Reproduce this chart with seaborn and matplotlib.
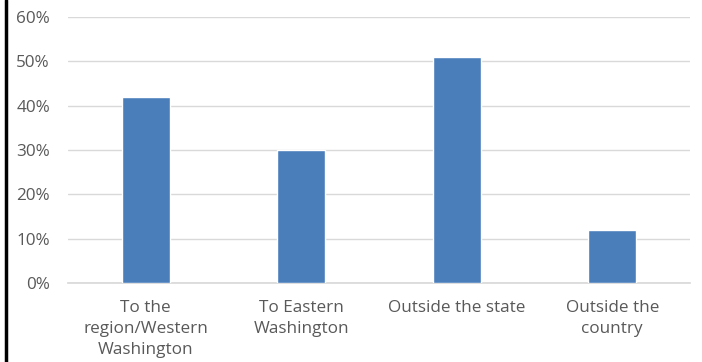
import matplotlib
matplotlib.use("Agg")
import matplotlib.pyplot as plt
from matplotlib.lines import Line2D
from matplotlib.ticker import PercentFormatter
import seaborn as sns
import pandas as pd

categories = ["To the\nregion/Western\nWashington", "To Eastern\nWashington",
              "Outside the state", "Outside the\ncountry"]
shares = [42, 30, 51, 12]
yticks = [0, 10, 20, 30, 40, 50, 60]

sns.set_theme(style="white")
plt.rcParams["font.family"] = ["Open Sans", "DejaVu Sans"]

df = pd.DataFrame({"destination": categories, "share": shares})

fig = plt.figure(figsize=(7.02, 3.62), dpi=100)
ax = fig.add_axes([68 / 702, 1 - 283 / 362, (690 - 68) / 702, (283 - 17) / 362])

sns.barplot(data=df, x="destination", y="share", color="#4a7ebb",
            width=0.31, saturation=1, ax=ax, zorder=3)

ax.set_ylim(0, 60)
ax.set_yticks(yticks)
ax.yaxis.set_major_formatter(PercentFormatter(decimals=0))
ax.grid(axis="y", color="#d9d9d9", linewidth=1, zorder=0)
ax.set_xlabel("")
ax.set_ylabel("")
for side in ["top", "right", "left"]:
    ax.spines[side].set_visible(False)
ax.spines["bottom"].set_color("#d9d9d9")
ax.tick_params(axis="both", length=0, colors="#595959", labelsize=12.3)
ax.tick_params(axis="x", pad=12)
for lbl in ax.get_xticklabels():
    lbl.set_linespacing(1.45)
ax.tick_params(axis="y", pad=13)

# black frame edge on the left
fig.add_artist(Line2D([6 / 702, 6 / 702], [0, 1], transform=fig.transFigure,
                      color="black", linewidth=2.5))

fig.savefig("out.png", dpi=100, facecolor="white")
